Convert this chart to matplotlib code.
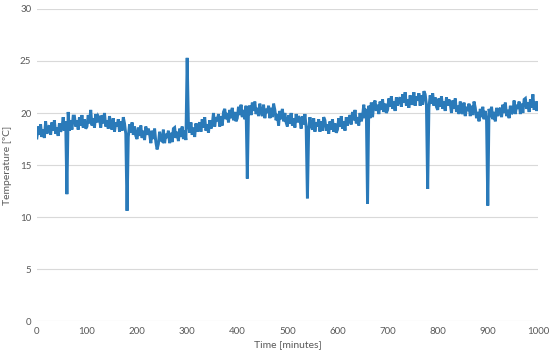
import matplotlib
matplotlib.use('Agg')
import matplotlib.pyplot as plt
import numpy as np

plt.rcParams['font.family'] = ['Lato', 'DejaVu Sans']

# Temperature readings every 2.5 minutes (0..1000), one row = 25 minutes
temp_base = [
    17.6, 18.7, 17.9, 18.9, 17.7, 18.4, 17.6, 19.2, 18.0, 18.6,
    18.8, 17.9, 19.1, 18.3, 19.3, 18.0, 18.6, 17.8, 19.0, 18.2,
    18.5, 19.6, 18.3, 19.2, 18.8, 20.1, 18.3, 19.3, 18.4, 19.7,
    19.7, 18.7, 19.3, 18.4, 19.6, 18.8, 19.8, 18.6, 19.4, 18.5,
    18.7, 19.8, 19.0, 20.3, 18.8, 19.5, 18.6, 19.9, 19.1, 19.7,
    19.5, 18.6, 19.8, 19.0, 20.0, 18.7, 19.3, 18.5, 19.7, 18.9,
    18.4, 19.5, 18.2, 19.1, 18.7, 19.4, 18.2, 19.2, 18.3, 19.6,
    19.0, 18.0, 18.6, 17.7, 18.9, 18.1, 19.1, 17.9, 18.7, 17.8,
    17.5, 18.6, 17.8, 18.8, 17.6, 18.3, 17.4, 18.7, 17.9, 18.5,
    18.0, 17.1, 18.3, 17.5, 18.5, 17.2, 16.5, 17.0, 18.2, 17.4,
    17.3, 18.4, 17.1, 18.0, 17.6, 18.3, 17.1, 18.1, 17.2, 18.5,
    18.6, 17.6, 18.2, 17.3, 18.5, 17.7, 18.7, 17.5, 18.3, 17.4,
    17.8, 18.9, 18.1, 19.1, 17.9, 18.6, 17.7, 19.0, 18.2, 18.8,
    19.1, 18.2, 19.4, 18.6, 19.6, 18.3, 18.9, 18.1, 19.3, 18.5,
    18.9, 20.0, 18.7, 19.6, 19.2, 19.9, 18.7, 19.7, 18.8, 20.1,
    20.4, 19.4, 20.0, 19.1, 20.3, 19.5, 20.5, 19.3, 20.1, 19.2,
    19.5, 20.6, 19.8, 20.8, 19.6, 20.3, 19.4, 20.7, 19.9, 20.5,
    20.7, 19.8, 21.0, 20.2, 21.1, 19.9, 20.5, 19.7, 20.9, 20.1,
    19.7, 20.8, 19.5, 20.4, 20.0, 20.7, 19.5, 20.5, 19.6, 20.9,
    20.3, 19.3, 19.9, 18.8, 20.2, 19.4, 20.4, 19.2, 20.0, 19.1,
    18.7, 19.8, 19.0, 20.0, 18.8, 19.5, 18.6, 19.9, 19.1, 19.7,
    19.4, 18.5, 19.7, 18.9, 19.9, 18.6, 19.2, 18.4, 19.6, 18.8,
    18.4, 19.5, 18.2, 19.1, 18.7, 19.4, 18.2, 19.2, 18.3, 19.6,
    19.3, 18.3, 18.9, 18.0, 19.2, 18.4, 19.4, 18.2, 19.0, 18.1,
    18.4, 19.5, 18.7, 19.7, 18.5, 19.2, 18.3, 19.6, 18.8, 19.4,
    19.8, 18.9, 20.1, 19.3, 20.3, 19.0, 19.6, 18.8, 20.0, 19.2,
    19.7, 20.8, 19.5, 20.4, 20.0, 20.7, 19.5, 21.0, 19.6, 20.9,
    21.2, 20.2, 20.8, 19.9, 21.1, 20.3, 21.3, 20.1, 20.9, 20.0,
    20.3, 21.4, 20.6, 21.6, 20.4, 21.1, 20.2, 21.5, 20.7, 21.3,
    21.5, 20.6, 21.8, 21.0, 22.0, 20.7, 21.3, 20.5, 21.7, 20.9,
    20.9, 22.0, 20.7, 21.6, 21.2, 21.9, 20.7, 21.7, 20.8, 22.1,
    21.8, 20.8, 21.4, 20.5, 21.7, 20.9, 21.9, 20.7, 21.5, 20.6,
    20.3, 21.4, 20.6, 21.6, 20.4, 21.1, 20.2, 21.5, 20.7, 21.3,
    20.9, 20.0, 21.2, 20.4, 21.4, 20.1, 20.7, 19.9, 21.1, 20.3,
    19.9, 21.0, 19.7, 20.6, 20.2, 20.9, 19.7, 20.7, 19.8, 21.1,
    20.5, 19.5, 20.1, 19.2, 20.4, 19.6, 20.6, 19.4, 20.2, 19.3,
    19.3, 20.4, 19.6, 20.6, 19.4, 20.1, 19.2, 20.5, 19.7, 20.3,
    20.5, 19.6, 20.8, 20.0, 21.0, 19.7, 20.3, 19.5, 20.7, 19.9,
    20.1, 21.2, 19.9, 20.8, 20.4, 21.1, 19.9, 20.9, 20.0, 21.3,
    21.4, 20.4, 21.0, 20.1, 21.3, 20.5, 21.8, 20.3, 21.1, 20.2,
    21.0,
]
time_base = np.arange(0, 1000.1, 2.5)

# Sensor glitches: readings at these minutes replace the regular value
spike_times = [60, 180, 300, 420, 540, 660, 780, 900]
spike_temps = [12.2, 10.6, 25.3, 13.7, 11.8, 11.3, 12.7, 11.1]

temps = np.array(temp_base)
for t, v in zip(spike_times, spike_temps):
    temps[np.argmin(np.abs(time_base - t))] = v

fig = plt.figure(figsize=(5.5, 3.58), dpi=100)
ax = fig.add_axes([0.067, 0.103, 0.911, 0.872])
ax.plot(time_base, temps, color='#2a7ab9', linewidth=2.1, solid_joinstyle='miter')

ax.set_xlim(0, 1000)
ax.set_ylim(0, 30)
ax.set_xticks(range(0, 1001, 100))
ax.set_yticks(range(0, 31, 5))
ax.yaxis.grid(True, color='#d9d9d9', linewidth=0.8)
ax.set_axisbelow(True)
for s in ax.spines.values():
    s.set_visible(False)
ax.tick_params(length=0, labelsize=7, colors='#595959', pad=4)
ax.set_xlabel('Time [minutes]', fontsize=7.5, color='#595959', labelpad=3)
ax.set_ylabel('Temperature [ºC]', fontsize=7.5, color='#595959', labelpad=6)

fig.savefig('out.png', dpi=100)
